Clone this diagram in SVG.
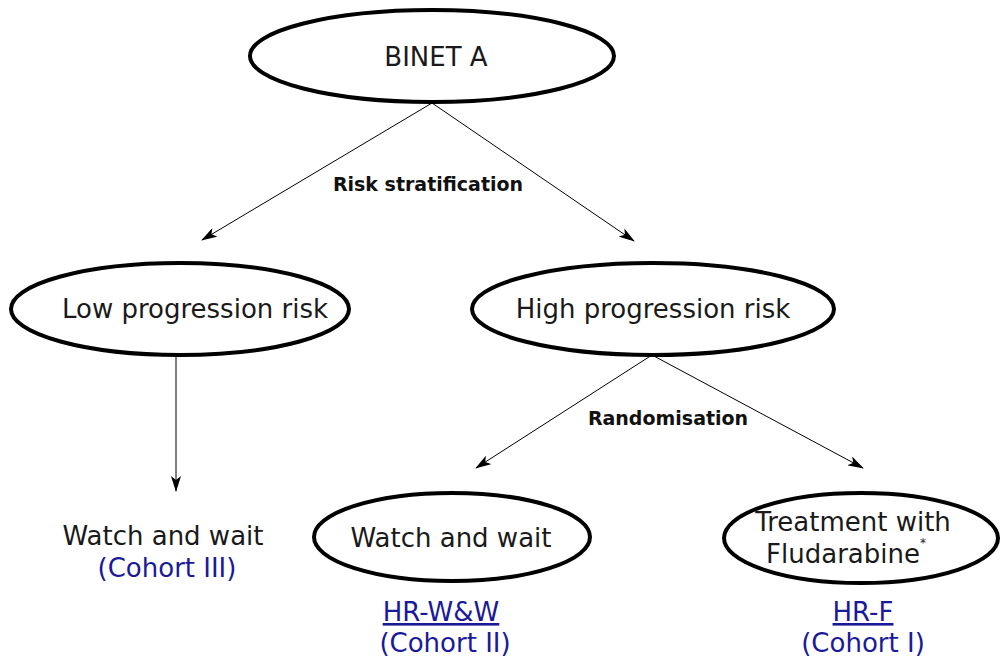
<svg xmlns="http://www.w3.org/2000/svg" width="1000" height="657" viewBox="0 0 1000 657">
<style>
.node ellipse{fill:#fff;stroke:#000;stroke-width:4}
.t{font-family:"DejaVu Sans",Verdana,sans-serif;font-size:26px;fill:#1a1a1a;text-anchor:middle}
.b{fill:#1a1a99}
.lbl{font-family:"DejaVu Sans",Verdana,sans-serif;font-weight:bold;font-size:19px;fill:#111;text-anchor:middle}
.conn line{stroke:#000;stroke-width:1;marker-end:url(#ah)}
</style>
<defs>
<marker id="ah" viewBox="0 0 16 10" refX="15" refY="5" markerWidth="16" markerHeight="10" markerUnits="userSpaceOnUse" orient="auto">
<path d="M0,0 L16,5 L0,10 L4,5 Z" fill="#000"/>
</marker>
</defs>
<rect width="1000" height="657" fill="#fff"/>
<g class="conn">
<line x1="432" y1="103" x2="202" y2="240"/>
<line x1="432" y1="103" x2="634" y2="241"/>
<line x1="176" y1="355" x2="176" y2="491"/>
<line x1="652" y1="355" x2="476" y2="468"/>
<line x1="652" y1="355" x2="863" y2="468"/>
</g>
<text class="lbl" x="428" y="191">Risk stratification</text>
<text class="lbl" x="668" y="425">Randomisation</text>
<g id="binet" class="node">
<ellipse cx="432" cy="56" rx="182" ry="46"/>
<text class="t" x="436" y="66">BINET A</text>
</g>
<g id="low" class="node">
<ellipse cx="180" cy="309" rx="169" ry="46"/>
<text class="t" x="195" y="318">Low progression risk</text>
</g>
<g id="high" class="node">
<ellipse cx="653" cy="309" rx="181" ry="46"/>
<text class="t" x="653" y="318">High progression risk</text>
</g>
<g id="ww-low" class="node">
<text class="t" x="163" y="545">Watch and wait</text>
<text class="t b" x="167" y="577">(Cohort III)</text>
</g>
<g id="ww-high" class="node">
<ellipse cx="452" cy="537" rx="138" ry="44"/>
<text class="t" x="451" y="547">Watch and wait</text>
<text class="t b" x="441" y="621" text-decoration="underline">HR-W&amp;W</text>
<text class="t b" x="445" y="652">(Cohort II)</text>
</g>
<g id="flu" class="node">
<ellipse cx="861" cy="538" rx="137" ry="45"/>
<text class="t" x="853" y="531">Treatment with</text>
<text class="t" x="846" y="563">Fludarabine<tspan font-size="12" dy="-16">*</tspan></text>
<text class="t b" x="863" y="621" text-decoration="underline">HR-F</text>
<text class="t b" x="863" y="652">(Cohort I)</text>
</g>
</svg>
